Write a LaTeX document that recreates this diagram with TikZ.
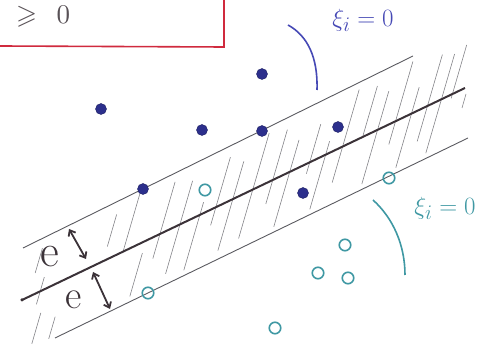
\documentclass[tikz,border=0pt]{standalone}
\usepackage{amssymb}
\usetikzlibrary{arrows.meta}
\definecolor{navy}{HTML}{2C2F8C}
\definecolor{pen}{HTML}{4649B5}
\definecolor{tealpen}{HTML}{3F98A3}
\definecolor{redpen}{HTML}{D02A3E}
\definecolor{graypen}{HTML}{5A5A60}
\definecolor{darkpen}{HTML}{3B3238}
\begin{document}
\begin{tikzpicture}[x=1pt,y=-1pt,
  fdot/.style={circle,fill=navy,draw=navy!70!black,line width=0.4pt,inner sep=0pt,minimum size=11pt},
  odot/.style={circle,draw=tealpen,line width=1.6pt,inner sep=0pt,minimum size=11.5pt},
  edgeline/.style={draw=graypen,line width=0.9pt},
  midline/.style={draw=darkpen,line width=2pt},
  hatch/.style={draw=graypen!75,line width=0.6pt},
  dbl/.style={draw=darkpen,line width=1.8pt,{Straight Barb[length=5pt,width=8pt]}-{Straight Barb[length=5pt,width=8pt]}},
  elabel/.style={text=darkpen,inner sep=0pt},
  xilabel/.style={inner sep=0pt,font=\fontsize{24.88}{26}\selectfont}
]
\useasboundingbox (0,0) rectangle (488,347);
% red box
\coordinate (b0) at (0,46);
\coordinate (b1) at (224,47);
\coordinate (b2) at (224,0);
\draw[redpen,line width=1.6pt] (b0) -- (b1) -- (b2);
\node[inner sep=0pt,text=darkpen!85,scale=2.7] (geq) at (43,17) {$\geqslant\;\,0$};

% hatching strokes between the margin lines
\foreach \x/\a/\b in {10/0.70/0.90, 22/0.40/0.62, 30/0.05/0.30, 48/0.02/0.20,
  85/0.62/0.88, 105/0.50/0.97, 128/0.05/0.40, 142/0.30/0.92,
  162/0.10/0.85, 182/0.05/0.60, 198/0.35/0.90, 215/0.08/0.80,
  235/0.10/0.95, 255/0.30/0.90, 272/0.05/0.75, 292/0.40/0.80,
  308/0.05/0.60, 325/0.20/0.95, 345/0.50/0.90, 360/0.05/0.80,
  378/0.30/0.97, 394/0.05/0.70, 410/0.20/0.90, 424/0.05/0.85, 435/0.45/0.88}{
  \pgfmathsetmacro\yl{338-0.484*(\x-55)}
  \draw[hatch] ({\x+36*\a},{\yl-124*\a}) -- ({\x+36*\b},{\yl-124*\b});
}
\coordinate (h1) at (466,94);
\coordinate (h2) at (462,108);
\draw[hatch] (h1) -- (h2);

% margin lines
\coordinate (u1) at (23,248);
\coordinate (u2) at (413,56);
\draw[edgeline] (u1) -- (u2);
\coordinate (l1) at (55,338);
\coordinate (l2) at (468,138);
\draw[edgeline] (l1) -- (l2);
% separating line
\node[circle,fill=darkpen,inner sep=0pt,minimum size=3.5pt] (m1) at (22,300) {};
\coordinate (m2) at (465,88);
\draw[midline] (m1.center) -- (m2);

% margin labels
\node[elabel,font=\fontsize{46}{46}\selectfont] (e1) at (50,257) {e};
\node[elabel,font=\fontsize{40}{40}\selectfont] (e2) at (74,300) {e};
\coordinate (a1) at (69,229);
\coordinate (a2) at (86,259);
\draw[dbl] (a1) -- (a2);
\coordinate (a3) at (93,272);
\coordinate (a4) at (110,309);
\draw[dbl] (a3) -- (a4);

% points of the first class
\node[fdot] (p1) at (262,74) {};
\node[fdot] (p2) at (101,109) {};
\node[fdot] (p3) at (202,130) {};
\node[fdot] (p4) at (262,131) {};
\node[fdot] (p5) at (338,127) {};
\node[fdot] (p6) at (143,189) {};
\node[fdot] (p7) at (303,193) {};

% points of the second class
\node[odot] (q1) at (205,190) {};
\node[odot] (q2) at (389,178) {};
\node[odot] (q3) at (148,293) {};
\node[odot] (q4) at (345,245) {};
\node[odot] (q5) at (318,273) {};
\node[odot] (q6) at (348,278) {};
\node[odot] (q7) at (275,328) {};

% slack labels
\node[xilabel,text=pen] (xi1) at (363,20) {$\xi_i = 0$};
\coordinate (c1) at (288,25);
\coordinate (c2) at (317,90);
\draw[pen,line width=1.6pt] (c1) .. controls (308,36) and (318,58) .. (c2);
\node[xilabel,text=tealpen] (xi2) at (445,208) {$\xi_i = 0$};
\coordinate (d1) at (373,200);
\coordinate (d2) at (405,275);
\draw[tealpen,line width=1.6pt] (d1) .. controls (393,218) and (405,245) .. (d2);
\end{tikzpicture}
\end{document}
